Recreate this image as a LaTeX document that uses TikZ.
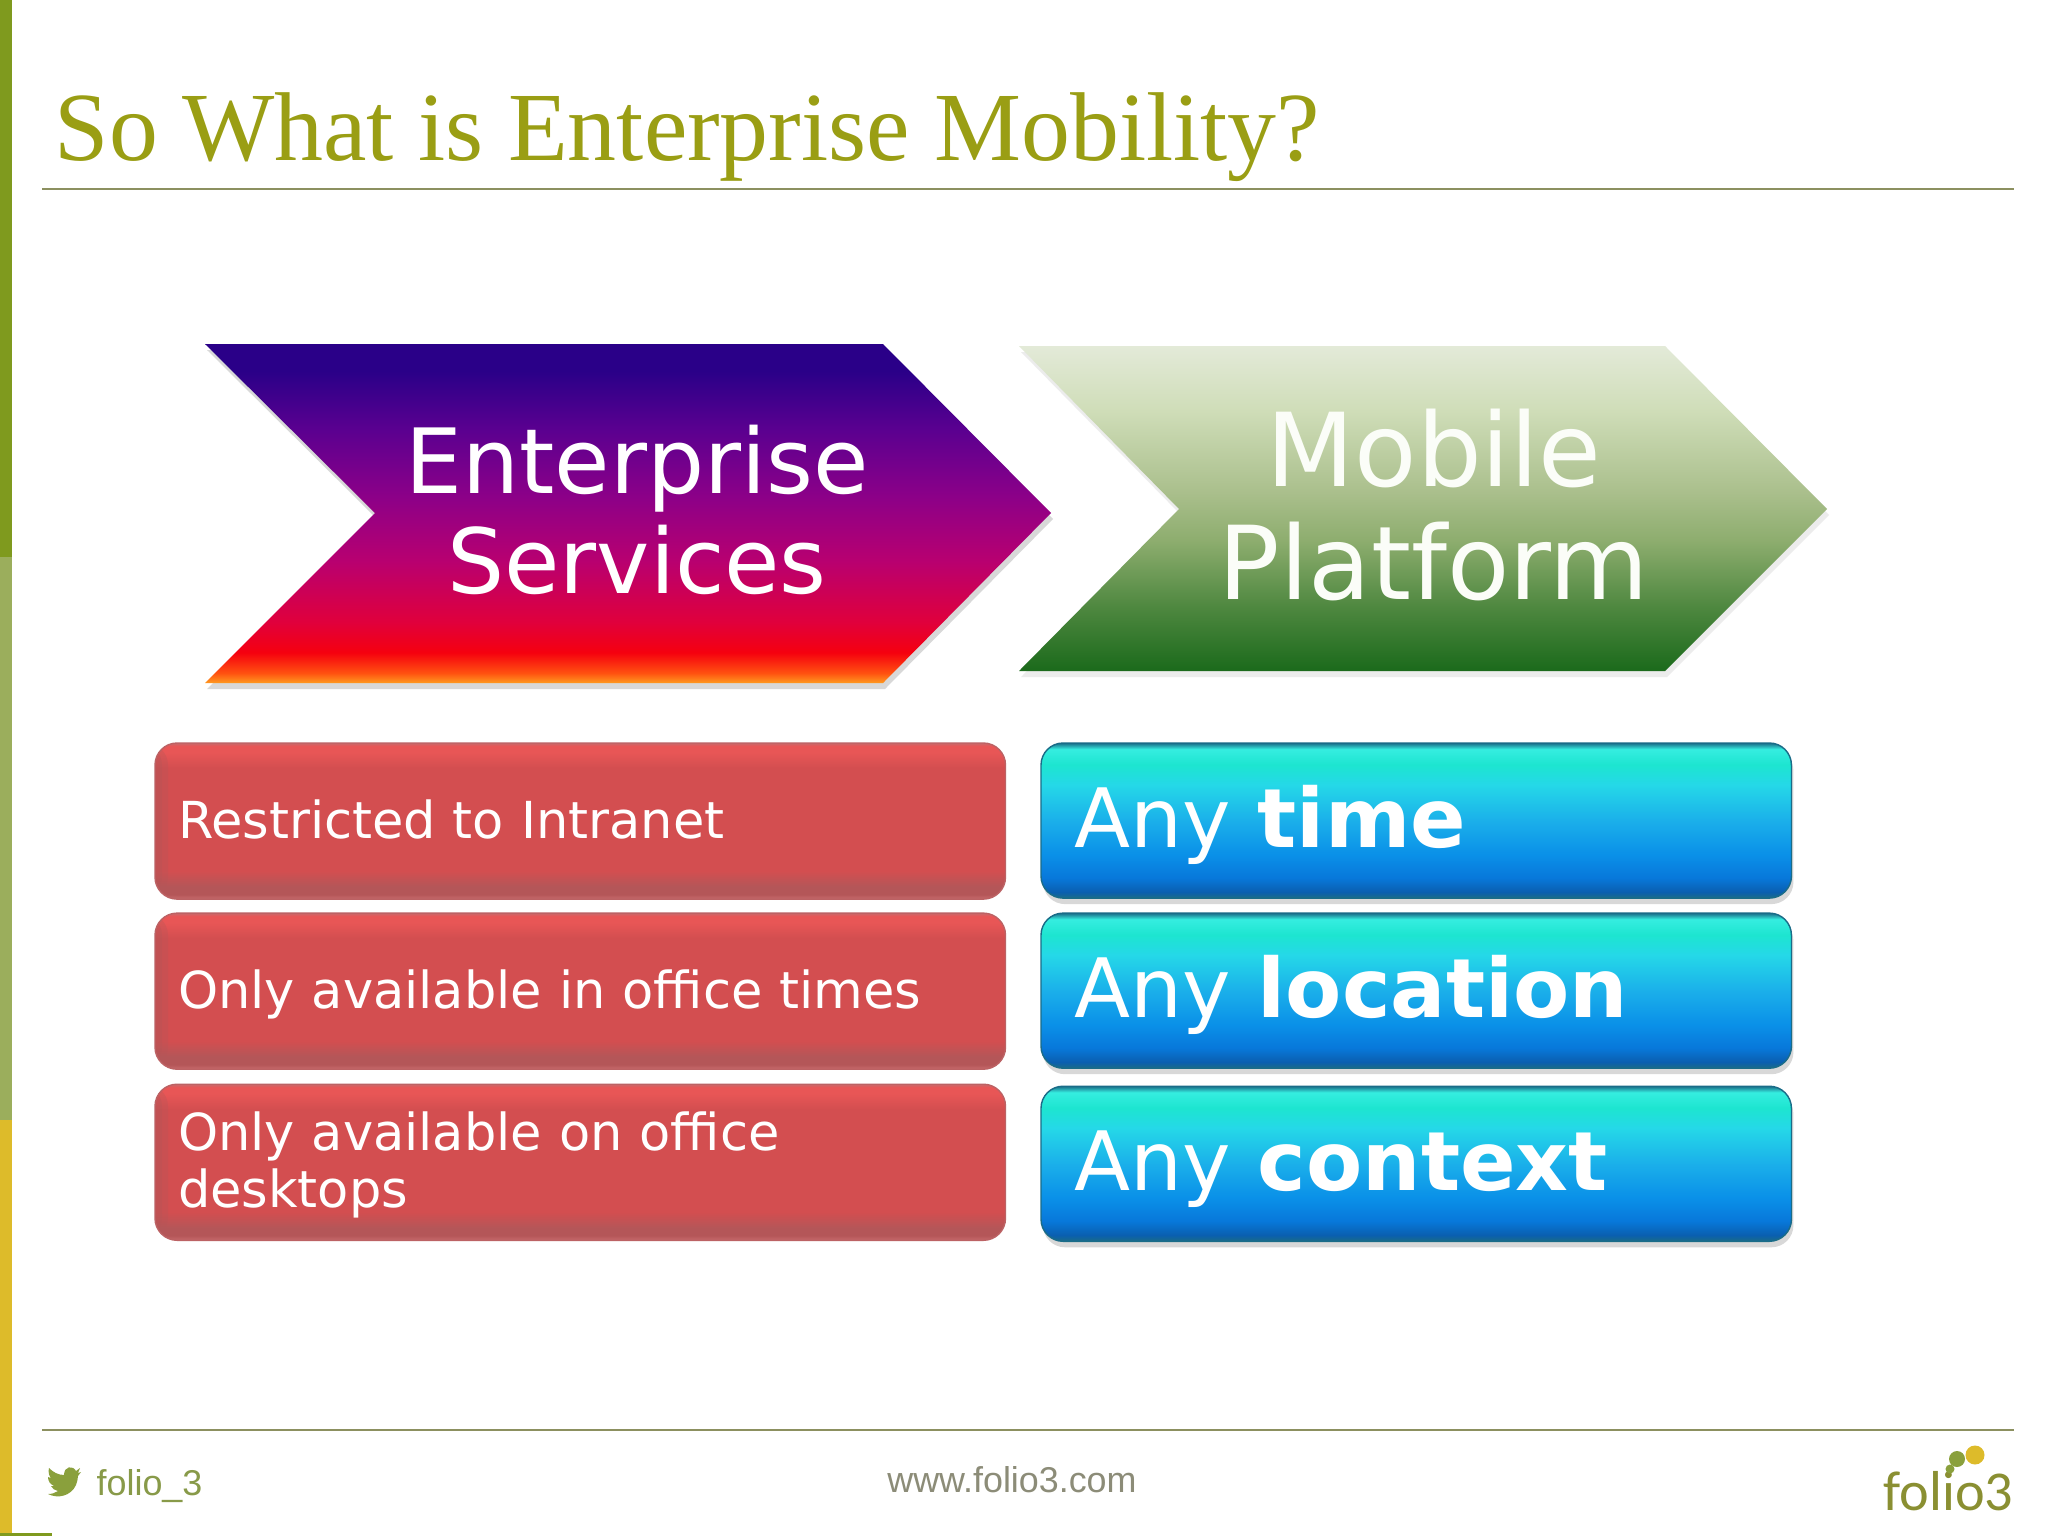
\documentclass[tikz,border=0pt]{standalone}
\usepackage{fontspec}
\setmainfont{Liberation Serif}
\newfontfamily\boxfont{DejaVu Sans}
\newfontfamily\footfont{Liberation Sans}
\newfontfamily\logofont{Carlito}
\usepackage{tikz}
\usetikzlibrary{positioning,shadows}
\definecolor{titlegreen}{HTML}{9A9E14}
\definecolor{rulegreen}{HTML}{8C9060}
\definecolor{bandone}{HTML}{7F9A1E}
\definecolor{bandtwo}{HTML}{9BAE5C}
\definecolor{bandthree}{HTML}{DDBB2A}
\definecolor{birdgreen}{HTML}{8AA03C}
\definecolor{footgray}{HTML}{8C8C78}
\definecolor{logogreen}{HTML}{8A8F32}
\definecolor{redrim}{HTML}{BC6264}
\definecolor{bluerim}{HTML}{1A6C88}
\definecolor{mobwhite}{HTML}{FBFDF8}
% chevron and box gradients, bottom to top
\definecolor{ea}{HTML}{FF9A20}\definecolor{eb}{HTML}{FF5010}\definecolor{ec}{HTML}{F5000F}\definecolor{ed}{HTML}{E0003C}\definecolor{ee}{HTML}{B80070}\definecolor{ef}{HTML}{8C0088}\definecolor{eg}{HTML}{5A0090}\definecolor{eh}{HTML}{2A0088}
\definecolor{ma}{HTML}{1B6A1B}\definecolor{mb}{HTML}{4F8840}\definecolor{mc}{HTML}{8DAD6E}\definecolor{md}{HTML}{AABF8C}\definecolor{me}{HTML}{CFDDB8}\definecolor{mf}{HTML}{E3EAD8}
\definecolor{ra}{HTML}{C86A6C}\definecolor{rb}{HTML}{B45658}\definecolor{rc}{HTML}{D34E50}\definecolor{rd}{HTML}{E85656}
\definecolor{ba}{HTML}{1A6C88}\definecolor{bb}{HTML}{0A5FB0}\definecolor{bc}{HTML}{0878DA}\definecolor{bd}{HTML}{0A90E8}\definecolor{be}{HTML}{1AAEEA}\definecolor{bf}{HTML}{25D8E8}\definecolor{bg}{HTML}{1DE5D0}\definecolor{bh}{HTML}{35EDE0}
\pgfdeclareverticalshading{entgrad}{100bp}{color(0bp)=(ea); color(25bp)=(ea); color(26.5bp)=(eb); color(29.5bp)=(ec); color(34bp)=(ed); color(43bp)=(ee); color(52.5bp)=(ef); color(62.5bp)=(eg); color(71bp)=(eh); color(100bp)=(eh)}
\pgfdeclareverticalshading{mobgrad}{100bp}{color(0bp)=(ma); color(25bp)=(ma); color(35bp)=(mb); color(45bp)=(mc); color(52.5bp)=(md); color(65bp)=(me); color(75bp)=(mf); color(100bp)=(mf)}
\pgfdeclareverticalshading{redgrad}{100bp}{color(0bp)=(ra); color(25bp)=(ra); color(26.5bp)=(rb); color(29bp)=(rb); color(34bp)=(rc); color(67bp)=(rc); color(72bp)=(rd); color(74bp)=(rd); color(75bp)=(ra); color(100bp)=(ra)}
\pgfdeclareverticalshading{bluegrad}{100bp}{color(0bp)=(ba); color(25bp)=(ba); color(27bp)=(bb); color(31.5bp)=(bc); color(39bp)=(bd); color(49.5bp)=(be); color(61.5bp)=(bf); color(68bp)=(bg); color(73bp)=(bh); color(75bp)=(ba); color(100bp)=(ba)}
\begin{document}
\begin{tikzpicture}[x=0.01cm,y=-0.01cm]
\tikzstyle{redbox}=[rectangle, rounded corners=0.22cm, draw=redrim, thin, shade, shading=redgrad, minimum width=8.50cm, minimum height=1.56cm, text width=8.04cm, inner sep=0pt, outer sep=0pt, align=left, text=white, font=\boxfont\fontsize{14.5}{16}\selectfont, path picture={\fill[rb, opacity=0.3] (path picture bounding box.south west) rectangle ([xshift=0.07cm]path picture bounding box.north west); \fill[rb, opacity=0.3] (path picture bounding box.south west) rectangle ([xshift=0.13cm]path picture bounding box.north west);}]
\tikzstyle{redline}=[redbox, text height=0.5cm, text depth=0.16cm]
\tikzstyle{bluebox}=[rectangle, rounded corners=0.22cm, draw=bluerim, thin, shade, shading=bluegrad, minimum width=7.50cm, minimum height=1.55cm, text width=6.84cm, inner sep=0pt, outer sep=0pt, align=left, text=white, text height=0.75cm, text depth=0.21cm, font=\boxfont\fontsize{23.3}{26}\selectfont, drop shadow={opacity=0.3, shadow xshift=0.02cm, shadow yshift=-0.06cm}]
\tikzstyle{headtext}=[align=center, inner sep=0pt]
\tikzstyle{foottext}=[inner sep=0pt, text=footgray, font=\footfont\fontsize{10.2}{12}\selectfont]
\useasboundingbox (0,0) rectangle (2048,1536);
  \fill[white] (0,0) rectangle (2048,1536);
  % side band
  \fill[bandone] (0,0) rectangle (12,557);
  \fill[bandtwo] (0,557) rectangle (12,1120);
  \fill[bandthree] (0,1120) rectangle (12,1536);
  \fill[bandone] (0,1533) rectangle (52,1536);
  % title and rules
  \node[anchor=base west, inner sep=0pt, text=titlegreen, font=\fontsize{27.8}{32}\selectfont] (title) at (54,160) {So What is Enterprise Mobility?};
  \coordinate (ruleA) at (42,189);
  \coordinate (ruleB) at (2014,189);
  \coordinate (ruleC) at (42,1430);
  \coordinate (ruleD) at (2014,1430);
  \draw[rulegreen, thick] (ruleA) -- (ruleB);
  \draw[rulegreen, thick] (ruleC) -- (ruleD);
  % chevrons
  \shade[shading=entgrad, drop shadow={opacity=0.3, shadow xshift=0.02cm, shadow yshift=-0.06cm}] (205,344) -- (883,344) -- (1051,513) -- (883,683) -- (205,683) -- (375,513) -- cycle;
  \shade[shading=mobgrad, drop shadow={opacity=0.15, shadow xshift=0.02cm, shadow yshift=-0.06cm}] (1019,346) -- (1665,346) -- (1827,509) -- (1665,671) -- (1019,671) -- (1179,509) -- cycle;
  \node[headtext, text=white, font=\boxfont\fontsize{25.6}{28.6}\selectfont] (enterprise) at (637,510) {Enterprise\\Services};
  \node[headtext, text=mobwhite, font=\boxfont\fontsize{29}{32}\selectfont] (mobile) at (1434,505) {Mobile\\Platform};
  % left boxes
  \node[redline, anchor=north west] (intranet) at (155,743) {Restricted to Intranet};
  \node[redline, below=0.14cm of intranet] (times) {Only available in office times};
  \node[redbox, below=0.15cm of times] (desktops) {\rule{0pt}{12.6pt}Only available on office\\desktops};
  % right boxes
  \node[bluebox, anchor=north west] (anytime) at (1041,743) {Any \textbf{time}};
  \node[bluebox, below=0.15cm of anytime] (location) {Any \textbf{location}};
  \node[bluebox, below=0.18cm of location] (context) {Any \textbf{context}};
  % footer
  \fill[birdgreen] (80,1468) -- (76,1471) .. controls (73,1465) and (64,1466) .. (64,1475) .. controls (58,1475) and (53,1472) .. (49,1468) .. controls (48,1472) and (49,1476) .. (51,1478) -- (48,1477) .. controls (48,1481) and (50,1484) .. (54,1486) -- (51,1486) .. controls (52,1489) and (55,1490) .. (58,1491) .. controls (55,1493) and (52,1494) .. (48,1494) .. controls (58,1499) and (71,1496) .. (76,1485) .. controls (77,1482) and (78,1479) .. (78,1476) -- (81,1472) -- (78,1473) -- cycle;
  \node[foottext, anchor=base west, text=birdgreen!80!gray] (twitter) at (96,1495) {folio\_3};
  \node[foottext, anchor=base] (website) at (1012,1492) {www.folio3.com};
  % logo
  \node[anchor=base east, inner sep=0pt, text=logogreen, font=\logofont\fontsize{16}{20}\selectfont] (logo) at (2014,1510) {folio3};
  \node[circle, fill=bandthree, minimum size=0.19cm, inner sep=0pt] (dotA) at (1975,1455) {};
  \node[circle, fill=birdgreen, minimum size=0.16cm, inner sep=0pt] (dotB) at (1957,1459) {};
  \node[circle, fill=birdgreen, minimum size=0.09cm, inner sep=0pt] (dotC) at (1950,1469) {};
\end{tikzpicture}
\end{document}
